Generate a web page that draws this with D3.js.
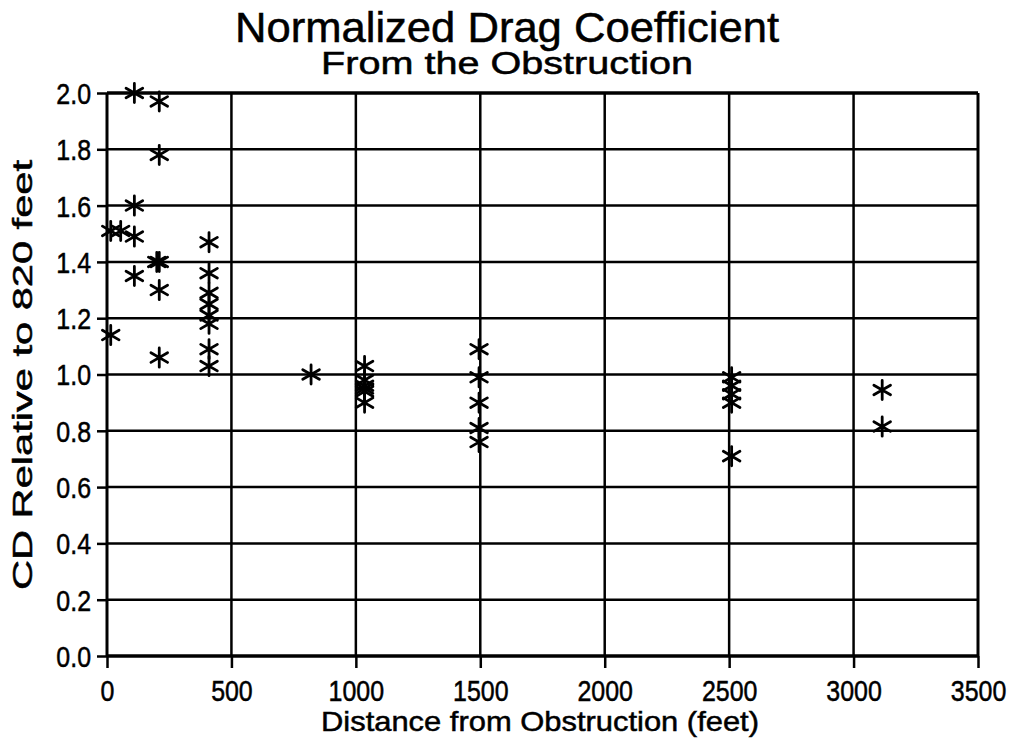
<!DOCTYPE html>
<html>
<head>
<meta charset="utf-8">
<script src="https://cdn.jsdelivr.net/npm/d3@7"></script>
<style>
  html, body { margin: 0; padding: 0; background: #fff; }
  svg { display: block; }
  text { font-family: "Liberation Sans", Arial, Helvetica, sans-serif; fill: #000; }
</style>
</head>
<body>
<svg id="chart" width="1016" height="740"></svg>
<script>
// ---- data ----
const titleText = "Normalized Drag Coefficient";
const subtitleText = "From the Obstruction";
const xLabel = "Distance from Obstruction (feet)";
const yLabel = "CD Relative to 820 feet";

const xTicks = [0, 500, 1000, 1500, 2000, 2500, 3000, 3500];
const yTicks = [0.0, 0.2, 0.4, 0.6, 0.8, 1.0, 1.2, 1.4, 1.6, 1.8, 2.0];

const distance = [
  15, 55, 15,
  110, 110, 110, 110,
  210, 210, 200, 210, 210, 210,
  410, 410, 410, 410, 410, 410, 410, 410,
  820,
  1035, 1035, 1035, 1035, 1035, 1035,
  1495, 1495, 1495, 1495, 1495,
  2510, 2510, 2510, 2510, 2510,
  3115, 3115
];
const cdRelative = [
  1.51, 1.51, 1.14,
  2.00, 1.60, 1.49, 1.35,
  1.97, 1.78, 1.40, 1.40, 1.30, 1.06,
  1.47, 1.36, 1.29, 1.25, 1.21, 1.18, 1.09, 1.03,
  1.00,
  1.03, 0.98, 0.96, 0.95, 0.94, 0.90,
  1.09, 0.99, 0.90, 0.81, 0.76,
  0.99, 0.96, 0.93, 0.90, 0.71,
  0.945, 0.815
];

// ---- layout ----
const svg = d3.select("#chart");
const mLeft = 107, mRight = 978, mTop = 93, mBottom = 656;

const x = d3.scaleLinear().domain([0, 3500]).range([mLeft, mRight]);
const y = d3.scaleLinear().domain([0, 2.0]).range([mBottom, mTop]);

// gridlines
svg.append("g")
  .selectAll("line")
  .data(yTicks)
  .join("line")
  .attr("x1", mLeft).attr("x2", mRight)
  .attr("y1", d => y(d)).attr("y2", d => y(d))
  .attr("stroke", "#000")
  .attr("stroke-width", d => (d === 0 || d === 2.0) ? 3.5 : 2.5);

svg.append("g")
  .selectAll("line")
  .data(xTicks)
  .join("line")
  .attr("x1", d => x(d)).attr("x2", d => x(d))
  .attr("y1", mTop).attr("y2", mBottom)
  .attr("stroke", "#000")
  .attr("stroke-width", d => (d === 0 || d === 3500) ? 3 : 2.5);

// axes
const xAxis = svg.append("g")
  .attr("transform", `translate(0,${mBottom})`)
  .call(d3.axisBottom(x).tickValues(xTicks).tickFormat(d3.format("d")).tickSize(12).tickPadding(12));
const yAxis = svg.append("g")
  .attr("transform", `translate(${mLeft},0)`)
  .call(d3.axisLeft(y).tickValues(yTicks).tickFormat(d3.format(".1f")).tickSize(10).tickPadding(6));

[xAxis, yAxis].forEach(g => {
  g.attr("font-size", null).attr("font-family", null);
  g.select(".domain").remove();
  g.selectAll(".tick line").attr("stroke", "#000").attr("stroke-width", 2.5);
  g.selectAll(".tick text")
    .attr("fill", "#000")
    .attr("stroke", "#000")
    .attr("stroke-width", 0.5)
    .attr("font-size", 29)
    .style("font-size", "29px")
    .each(function () {
      const len = this.getComputedTextLength();
      d3.select(this).attr("textLength", len * 0.86).attr("lengthAdjust", "spacingAndGlyphs");
    });
});
xAxis.selectAll(".tick text").attr("dy", "0.71em");
yAxis.selectAll(".tick text").attr("dy", "0.36em");

// points
const pts = distance.map((d, i) => ({ x: d, y: cdRelative[i] }));
const star = d3.symbol().type(d3.symbolAsterisk).size(260);
svg.append("g")
  .selectAll("path")
  .data(pts)
  .join("path")
  .attr("transform", d => `translate(${x(d.x)},${y(d.y)})`)
  .attr("d", star)
  .attr("fill", "none")
  .attr("stroke", "#000")
  .attr("stroke-width", 2.8)
  .attr("stroke-linecap", "round");

// titles
svg.append("text")
  .attr("x", 507).attr("y", 42)
  .attr("text-anchor", "middle")
  .attr("stroke", "#000").attr("stroke-width", 0.5)
  .style("font-size", "42px")
  .attr("textLength", 544).attr("lengthAdjust", "spacingAndGlyphs")
  .text(titleText);
svg.append("text")
  .attr("x", 507).attr("y", 74)
  .attr("text-anchor", "middle")
  .attr("stroke", "#000").attr("stroke-width", 0.5)
  .style("font-size", "31px")
  .attr("textLength", 372).attr("lengthAdjust", "spacingAndGlyphs")
  .text(subtitleText);

svg.append("text")
  .attr("x", 540).attr("y", 731)
  .attr("text-anchor", "middle")
  .attr("stroke", "#000").attr("stroke-width", 0.5)
  .style("font-size", "28px")
  .attr("textLength", 438).attr("lengthAdjust", "spacingAndGlyphs")
  .text(xLabel);

svg.append("text")
  .attr("transform", "translate(32,375) rotate(-90)")
  .attr("text-anchor", "middle")
  .attr("stroke", "#000").attr("stroke-width", 0.5)
  .style("font-size", "28px")
  .attr("textLength", 430).attr("lengthAdjust", "spacingAndGlyphs")
  .text(yLabel);
</script>
</body>
</html>
